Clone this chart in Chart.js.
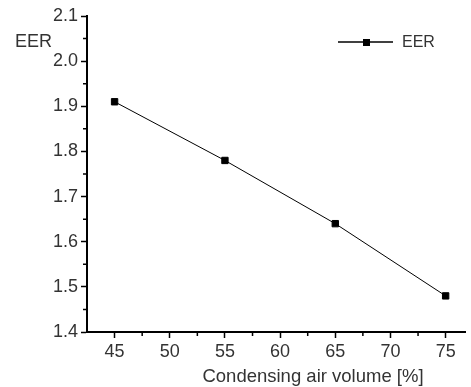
<!DOCTYPE html>
<html>
<head>
<meta charset="utf-8">
<script src="https://cdn.jsdelivr.net/npm/chart.js@4/dist/chart.umd.min.js"></script>
<style>
  html, body { margin: 0; padding: 0; background: #fff; }
  #wrap { width: 471px; height: 387px; }
</style>
</head>
<body>
<div id="wrap"><canvas id="eerChart" width="471" height="387"></canvas></div>
<script>
const airVolume = [45, 55, 65, 75];
const eerValues = [1.91, 1.78, 1.64, 1.48];
const xTicks = [45, 50, 55, 60, 65, 70, 75];
const xMinor = [47.5, 52.5, 57.5, 62.5, 67.5, 72.5];
const yTicks = [1.4, 1.5, 1.6, 1.7, 1.8, 1.9, 2.0, 2.1];
const yMinor = [1.45, 1.55, 1.65, 1.75, 1.85, 1.95, 2.05];

const textColor = "#333";
const fontFamily = "'Liberation Sans', Arial, sans-serif";

// minor ticks, axis titles and legend
const decorPlugin = {
  id: "decor",
  afterDraw(chart) {
    const ctx = chart.ctx;
    const x = chart.scales.x, y = chart.scales.y;
    const area = chart.chartArea;
    ctx.save();
    ctx.strokeStyle = "#000";
    ctx.lineWidth = 1.5;
    ctx.beginPath();
    xMinor.forEach((v) => {
      const px = x.getPixelForValue(v);
      ctx.moveTo(px, area.bottom);
      ctx.lineTo(px, area.bottom + 4);
    });
    yMinor.forEach((v) => {
      const py = y.getPixelForValue(v);
      ctx.moveTo(area.left, py);
      ctx.lineTo(area.left - 4, py);
    });
    ctx.stroke();

    ctx.fillStyle = textColor;
    ctx.textBaseline = "middle";
    ctx.font = "18px " + fontFamily;
    ctx.textAlign = "left";
    ctx.fillText("EER", 15, 42);
    ctx.font = "18.5px " + fontFamily;
    ctx.textAlign = "center";
    ctx.fillText("Condensing air volume [%]", 313, 377);

    // legend
    ctx.strokeStyle = "#000";
    ctx.lineWidth = 1.5;
    ctx.beginPath();
    ctx.moveTo(338, 42);
    ctx.lineTo(393, 42);
    ctx.stroke();
    ctx.fillStyle = "#000";
    ctx.fillRect(363, 39, 7, 7);
    ctx.fillStyle = textColor;
    ctx.font = "16px " + fontFamily;
    ctx.textAlign = "left";
    ctx.fillText("EER", 402, 43);
    ctx.restore();
  }
};

new Chart(document.getElementById("eerChart").getContext("2d"), {
  type: "scatter",
  data: {
    datasets: [{
      label: "EER",
      data: airVolume.map((v, i) => ({ x: v, y: eerValues[i] })),
      showLine: true,
      borderColor: "#000",
      borderWidth: 1,
      backgroundColor: "#000",
      pointStyle: "rect",
      pointRadius: 4.5,
      pointBorderWidth: 1,
      pointBorderColor: "#000"
    }]
  },
  options: {
    responsive: false,
    animation: false,
    layout: { padding: { top: 16, right: 0, left: 0, bottom: 0 } },
    plugins: { legend: { display: false }, tooltip: { enabled: false } },
    scales: {
      x: {
        type: "linear",
        min: 42.5,
        max: 76.8,
        afterBuildTicks: (s) => { s.ticks = xTicks.map((v) => ({ value: v })); },
        afterFit: (s) => { s.height = 55; },
        border: { display: true, color: "#000", width: 2 },
        grid: { drawOnChartArea: false, drawTicks: true, tickLength: 6, tickWidth: 1.5, tickColor: "#000" },
        ticks: { color: textColor, padding: 3, font: { family: fontFamily, size: 18 } }
      },
      y: {
        type: "linear",
        min: 1.4,
        max: 2.1,
        afterBuildTicks: (s) => { s.ticks = yTicks.map((v) => ({ value: v })); },
        afterFit: (s) => { s.width = 87; },
        border: { display: true, color: "#000", width: 2 },
        grid: { drawOnChartArea: false, drawTicks: true, tickLength: 6, tickWidth: 1.5, tickColor: "#000" },
        ticks: { color: textColor, padding: 3, font: { family: fontFamily, size: 18 }, callback: (v) => v.toFixed(1) }
      }
    }
  },
  plugins: [decorPlugin]
});
</script>
</body>
</html>
